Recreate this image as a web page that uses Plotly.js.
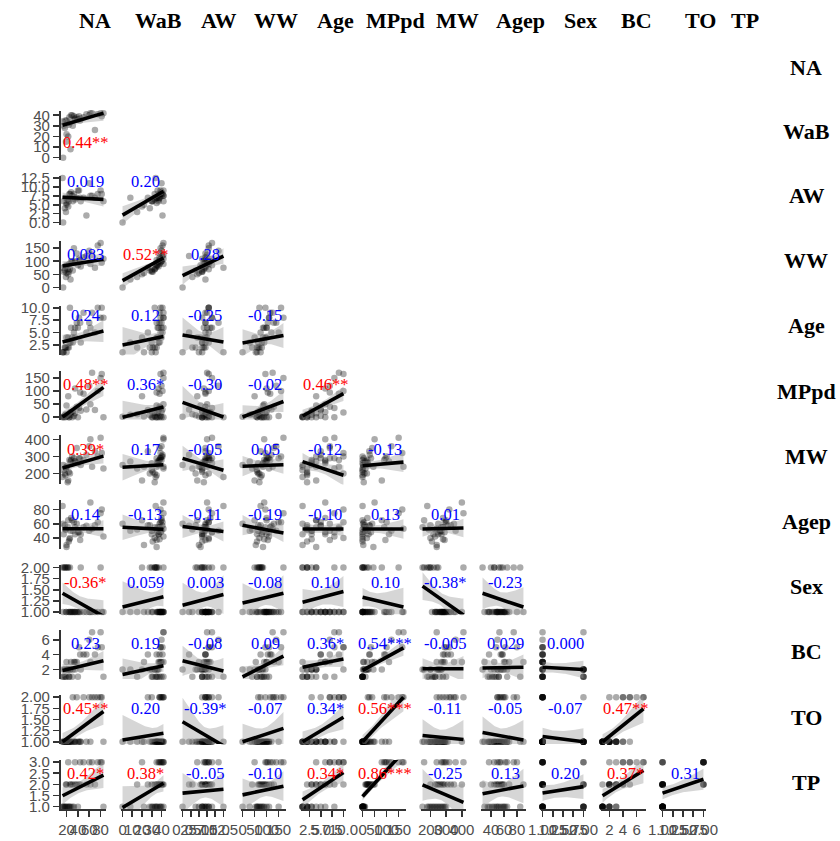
<!DOCTYPE html>
<html><head><meta charset="utf-8">
<script src="https://cdn.plot.ly/plotly-3.0.1.min.js"></script>
<style>html,body{margin:0;padding:0;background:#fff}</style>
</head><body><div id="chart" style="width:840px;height:841px"></div>
<script>
// ---------------- DATA ----------------
const varNames = ["NA","WaB","AW","WW","Age","MPpd","MW","Agep","Sex","BC","TO","TP"];

const vNA   = [15,18,14,25,22,30,20,40,17,85,27,13,33,24,35,28,45,19,55,38,26,62,31,42,20,70,50,75,60,80,35,82,65,23,44];
const vWaB  = [30,35,0,38,33,40,22,36,28,42,8,34,39,31,36,40,37,15,41,38,33,42,30,39,35,26,38,41,40,42,37,39,42,20,35];
const vAW   = [6,7,0,8,6.5,7.5,5,9,4,6,7,12.5,8,6,7,8.5,6,3,2,7,8,7.5,6,9,5.5,7,7,8,11,9,6.5,8,7.5,4.5,7];
const vWW   = [60,80,0,90,70,100,55,85,65,110,30,75,150,60,95,100,80,40,120,130,70,90,65,110,85,75,115,160,140,170,100,95,125,50,105];
const vAge  = [1,2,1,3,2,4,1,6,2,8,3,1,5,2,4,6,3,2,5,7,10,6,3,8,4,5,9,10,7,8,6,10,9,4,7];
const vMPpd = [0,0,2,0,5,0,3,0,8,0,10,0,5,0,15,20,25,12,30,40,18,50,22,35,45,28,90,100,120,150,110,165,170,80,95];
const vMW   = [220,190,250,280,150,300,240,260,200,230,270,180,290,210,270,280,250,230,310,350,200,400,260,290,240,330,280,300,360,410,270,320,240,160,290];
const vAgep = [45,52,60,38,55,65,30,48,58,42,50,85,62,35,55,68,45,52,57,60,40,90,50,48,27,58,55,62,50,75,45,80,53,65,37];
const vSex  = [2,2,1,1,2,1,1,1,2,1,1,2,1,1,1,1,2,1,1,1,2,1,1,1,2,1,1,1,1,2,1,1,1,2,1];
const vBC   = [1,1,2,1,2,1,3,1,2,1,2,1,3,1,2,3,2,1,4,3,2,3,2,5,2,4,4,5,6,7,3,5,7,2,4];
const vTO   = [1,1,1,1,1,1,1,1,1,1,1,1,1,1,1,1,1,1,1,2,1,1,2,1,1,2,2,2,2,2,1,2,2,1,1];
const vTP   = [1,1,1,1,1,1,1,1,1,1,1,1,1,1,2,2,2,2,2,2,2,2,2,2,2,2,3,3,3,3,3,3,3,3,3];

// tick values / labels per variable
const tickVals = [
  [20,40,60,80],[0,10,20,30,40],[0,2.5,5,7.5,10,12.5],[0,50,100,150],[2.5,5,7.5,10],
  [0,50,100,150],[200,300,400],[40,60,80],[1,1.25,1.5,1.75,2],[2,4,6],[1,1.25,1.5,1.75,2],[1,1.5,2,2.5,3]
];
const tickText = [
  ["20","40","60","80"],["0","10","20","30","40"],["0.0","2.5","5.0","7.5","10.0","12.5"],["0","50","100","150"],
  ["2.5","5.0","7.5","10.0"],["0","50","100","150"],["200","300","400"],["40","60","80"],
  ["1.00","1.25","1.50","1.75","2.00"],["2","4","6"],["1.00","1.25","1.50","1.75","2.00"],["1.0","1.5","2.0","2.5","3.0"]
];

// fitted line value at left (x min) and right (x max) of each lower panel, rows WaB..TP
const lineLeft = [
  [30.5],
  [7.1, 2.1],
  [82, 26, 45],
  [3.1, 2.5, 4.5, 2.9],
  [1, 0, 57, 1, 5],
  [233, 237, 289, 243, 270, 246],
  [53, 55, 56, 58, 52.5, 52.5, 52.5],
  [1.42, 1.11, 1.15, 1.20, 1.22, 1.33, 1.58, 1.42],
  [1.87, 1.31, 3.16, 1.0, 2.3, 1.87, 2.1, 2.2, 2.3],
  [1.0, 1.04, 1.45, 1.0, 1.0, 1.0, 1.14, 1.21, 1.12, 1.0],
  [1.49, 0.96, 1.61, 1.53, 1.31, 1.46, 1.98, 1.58, 1.61, 1.49, 1.61]
];
const lineRight = [
  [42],
  [6.5, 8.8],
  [108, 113, 120],
  [5.3, 4.2, 3.1, 4.4],
  [114, 39, 1, 60, 90],
  [302, 252, 220, 252, 190, 267],
  [53, 52, 49, 47, 52.5, 52.5, 54],
  [0.90, 1.34, 1.39, 1.42, 1.46, 1.11, 0.93, 1.11],
  [3.16, 2.5, 1.78, 3.8, 3.4, 4.9, 2.1, 2.3, 2.0],
  [1.68, 1.19, 0.91, 1.3, 1.55, 2.0, 1.05, 1.04, 1.0, 1.74],
  [2.42, 2.05, 1.78, 1.92, 2.53, 3.46, 1.19, 1.93, 1.9, 2.62, 2.23]
];

// correlation labels per lower panel
const corrLabels = [
  ["0.44**"],
  ["0.019","0.20"],
  ["0.083","0.52**","0.28"],
  ["0.24","0.12","-0.25","-0.15"],
  ["0.48**","0.36*","-0.30","-0.02","0.46**"],
  ["0.39*","0.17","-0.05","0.05","-0.12","-0.13"],
  ["0.14","-0.13","-0.11","-0.19","-0.10","0.13","0.01"],
  ["-0.36*","0.059","0.003","-0.08","0.10","0.10","-0.38*","-0.23"],
  ["0.23","0.19","-0.08","0.09","0.36*","0.54***","-0.005","0.029","0.000"],
  ["0.45**","0.20","-0.39*","-0.07","0.34*","0.56***","-0.11","-0.05","-0.07","0.47**"],
  ["0.42*","0.38*","-0..05","-0.10","0.34*","0.86***","-0.25","0.13","0.20","0.37*","0.31"]
];

// ---------------- STYLE ----------------
const redPanels = new Set(["1-0","3-1","5-0","5-4","6-0","8-0","10-0","10-5","10-9","11-0","11-1","11-4","11-5","11-9"]);
const W = 840, H = 841;
const colX0 = j => 60.5 + 60 * j, colW = 45;
const rowY0 = i => 110.9 + 64.9 * (i - 1), rowH = 49;
const topLabelX = [95,158,218,276,335,395,458,520,580,636,700,745];
const rightLabelY = [68,131,196,261,326,392,456,521,586,651,717,782];
const textFrac = {1:0.64, 2:0.12, 4:0.2, 8:0.36};

const series = [vNA,vWaB,vAW,vWW,vAge,vMPpd,vMW,vAgep,vSex,vBC,vTO,vTP];
const ext = v => { const mn = Math.min(...v), mx = Math.max(...v), r = mx - mn; return [mn - 0.05*r, mx + 0.05*r]; };

const axisStyle = {
  showline:true, linecolor:'#333', linewidth:1.6, ticks:'outside', ticklen:6, tickwidth:1.6, tickcolor:'#333',
  showgrid:false, zeroline:false, tickangle:0, fixedrange:true, automargin:false,
  tickfont:{family:'Liberation Sans, Arial, sans-serif', size:15, color:'#4d4d4d'}
};
const xName = j => j === 0 ? 'x' : 'x' + (j + 1);
const yName = i => i === 1 ? 'y' : 'y' + i;

const layout = {
  width:W, height:H, margin:{l:0,r:0,t:0,b:0}, showlegend:false,
  paper_bgcolor:'#fff', plot_bgcolor:'rgba(0,0,0,0)', annotations:[]
};
for (let j = 0; j <= 10; j++) {
  layout['xaxis' + (j === 0 ? '' : j + 1)] = Object.assign({}, axisStyle, {
    domain:[colX0(j)/W, (colX0(j)+colW)/W], anchor:yName(11), range:ext(series[j]),
    tickmode:'array', tickvals:tickVals[j], ticktext:tickText[j]
  });
}
for (let i = 1; i <= 11; i++) {
  layout['yaxis' + (i === 1 ? '' : i)] = Object.assign({}, axisStyle, {
    domain:[1 - (rowY0(i)+rowH)/H, 1 - rowY0(i)/H], anchor:'x', range:ext(series[i]),
    tickmode:'array', tickvals:tickVals[i], ticktext:tickText[i]
  });
}

const traces = [];
for (let i = 1; i <= 11; i++) {
  for (let j = 0; j < i; j++) {
    const xs = series[j], ys = series[i], n = xs.length;
    const xa = xName(j), ya = yName(i);
    traces.push({type:'scatter', mode:'markers', x:xs, y:ys, xaxis:xa, yaxis:ya, cliponaxis:false,
      marker:{size:6.5, color:'rgba(0,0,0,0.33)', line:{width:0}}, hoverinfo:'skip'});
    const xmin = Math.min(...xs), xmax = Math.max(...xs);
    const yL = lineLeft[i-1][j], yR = lineRight[i-1][j];
    const b = (yR - yL) / (xmax - xmin), a = yL - b * xmin;
    const xbar = xs.reduce((s,v)=>s+v,0)/n;
    const Sxx = xs.reduce((s,v)=>s+(v-xbar)*(v-xbar),0);
    const sse = xs.reduce((s,v,k)=>s+Math.pow(ys[k]-a-b*v,2),0);
    const sres = Math.sqrt(sse/(n-2)), t = 2.035;
    const gx = [], up = [], lo = [];
    for (let k = 0; k <= 40; k++) {
      const x = xmin + (xmax - xmin) * k / 40;
      const se = sres * Math.sqrt(1/n + (x-xbar)*(x-xbar)/Sxx);
      gx.push(x); up.push(a + b*x + t*se); lo.push(a + b*x - t*se);
    }
    traces.push({type:'scatter', mode:'lines', x:gx.concat(gx.slice().reverse()), y:up.concat(lo.slice().reverse()),
      xaxis:xa, yaxis:ya, fill:'toself', fillcolor:'rgba(153,153,153,0.4)', line:{width:0}, hoverinfo:'skip'});
    traces.push({type:'scatter', mode:'lines', x:[xmin,xmax], y:[yL,yR], xaxis:xa, yaxis:ya,
      line:{color:'#000', width:3.6}, hoverinfo:'skip'});
    const frac = textFrac[i] !== undefined ? textFrac[i] : 0.28;
    layout.annotations.push({
      xref:xa + ' domain', yref:ya + ' domain', x:0.55, y:1 - frac, xanchor:'center', yanchor:'middle',
      text:corrLabels[i-1][j], showarrow:false,
      font:{family:'Liberation Serif, Times New Roman, serif', size:16.5, color: redPanels.has(i+'-'+j) ? '#ff0000' : '#0000ff'}
    });
  }
}
const labFont = {family:'Liberation Serif, Times New Roman, serif', size:22, color:'#000'};
varNames.forEach((nm, k) => {
  layout.annotations.push({xref:'paper', yref:'paper', x:topLabelX[k]/W, y:1 - 20/H, xanchor:'center', yanchor:'middle',
    text:'<b>' + nm + '</b>', showarrow:false, font:labFont});
  layout.annotations.push({xref:'paper', yref:'paper', x:806/W, y:1 - rightLabelY[k]/H, xanchor:'center', yanchor:'middle',
    text:'<b>' + nm + '</b>', showarrow:false, font:labFont});
});

Plotly.newPlot('chart', traces, layout, {staticPlot:true, displayModeBar:false});
</script></body></html>
